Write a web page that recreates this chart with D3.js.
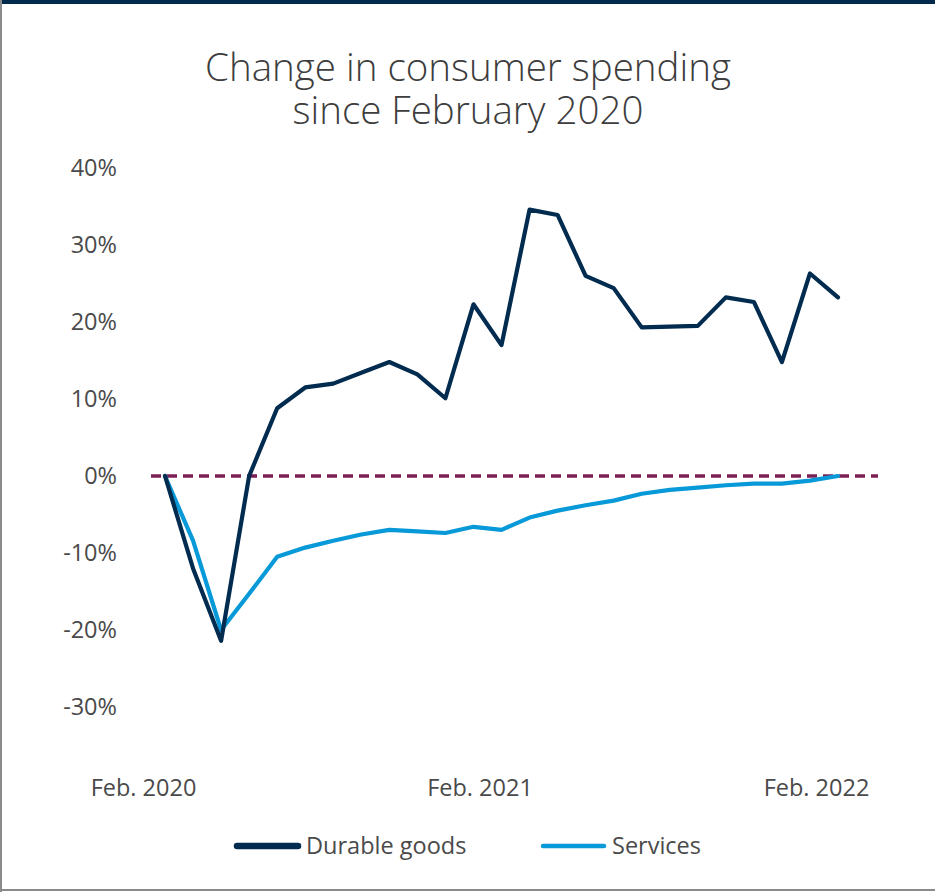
<!DOCTYPE html>
<html>
<head>
<meta charset="utf-8">
<script src="https://cdn.jsdelivr.net/npm/d3@7"></script>
<style>
  html, body { margin: 0; padding: 0; background: #fff; }
  svg { display: block; font-family: "Open Sans", Lato, sans-serif; }
</style>
</head>
<body>
<svg id="chart" width="935" height="892"></svg>
<script>
// Monthly change in spending relative to February 2020 (percent)
const months = d3.range(25).map(i => new Date(2020, 1 + i, 1));
const durableGoods = [0, -12.0, -21.4, 0.0, 8.8, 11.5, 12.0, 13.4, 14.8, 13.2, 10.1, 22.3, 17.0,
                      34.6, 33.9, 26.0, 24.4, 19.3, 19.4, 19.5, 23.2, 22.6, 14.8, 26.3, 23.2];
const services = [0, -8.4, -20.0, -15.3, -10.5, -9.3, -8.4, -7.6, -7.0, -7.2, -7.4, -6.6, -7.0,
                  -5.4, -4.5, -3.8, -3.2, -2.3, -1.8, -1.5, -1.2, -1.0, -1.0, -0.6, 0.0];
const yTicks = [40, 30, 20, 10, 0, -10, -20, -30];
const xTickIndex = [0, 12, 24];
const xTickLabels = ["Feb. 2020", "Feb. 2021", "Feb. 2022"];
const seriesNames = ["Durable goods", "Services"];
const seriesColors = ["#012b4f", "#0899d8"];

const svg = d3.select("#chart");
const W = 935, H = 892;
const FONT = "'Open Sans', Lato, sans-serif";

// Frame: navy band on top, grey rules left and bottom
svg.append("rect").attr("x", 0).attr("y", 0).attr("width", W).attr("height", H).attr("fill", "#fff");
svg.append("rect").attr("x", 0).attr("y", 0).attr("width", W).attr("height", 4).attr("fill", "#012a4c");
svg.append("rect").attr("x", 0).attr("y", 0).attr("width", 2).attr("height", H).attr("fill", "#8a8a8a");
svg.append("rect").attr("x", 0).attr("y", H - 3).attr("width", W).attr("height", 2).attr("fill", "#8a8a8a");

// Title, two lines
const titleLines = ["Change in consumer spending", "since February 2020"];
svg.selectAll("text.title")
  .data(titleLines)
  .join("text")
  .attr("class", "title")
  .attr("x", 468)
  .attr("y", (d, i) => 81 + i * 43)
  .attr("text-anchor", "middle")
  .attr("fill", "#3d3d3d")
  .attr("font-family", FONT)
  .attr("font-size", 38.5)
  .attr("font-weight", 300)
  .text(d => d);

// Scales
const x = d3.scaleLinear().domain([0, 24]).range([165, 838]);
const y = d3.scaleLinear().domain([-30, 40]).range([707, 168]);

// Y axis labels
const yAxis = d3.axisLeft(y).tickValues(yTicks).tickFormat(d => d + "%").tickSize(0).tickPadding(0);
const gy = svg.append("g").attr("transform", "translate(117,0)").call(yAxis);
gy.select(".domain").remove();
gy.selectAll("text")
  .attr("font-family", FONT)
  .attr("font-size", 23.5)
  .attr("fill", "#4a4a4a");

// X axis labels
const xAxis = d3.axisBottom(x).tickValues(xTickIndex)
  .tickFormat((d, i) => xTickLabels[i]).tickSize(0).tickPadding(0);
const gx = svg.append("g").attr("transform", "translate(0,796)").call(xAxis);
gx.select(".domain").remove();
gx.selectAll("text")
  .attr("dx", -22)
  .attr("dy", 0)
  .attr("font-family", FONT)
  .attr("font-size", 23.5)
  .attr("fill", "#4a4a4a");

// Zero reference line
svg.append("line")
  .attr("x1", 151).attr("x2", 878)
  .attr("y1", y(0)).attr("y2", y(0))
  .attr("stroke", "#7b2055")
  .attr("stroke-width", 3.5)
  .attr("stroke-dasharray", "10,6");

// Series lines
const line = d3.line().x((d, i) => x(i)).y(d => y(d));
[services, durableGoods].forEach((vals, k) => {
  const idx = k === 0 ? 1 : 0;
  svg.append("path")
    .datum(vals)
    .attr("d", line)
    .attr("fill", "none")
    .attr("stroke", seriesColors[idx])
    .attr("stroke-width", 4.2)
    .attr("stroke-linejoin", "round")
    .attr("stroke-linecap", "round");
});

// Legend
const legendItems = [
  { name: seriesNames[0], color: seriesColors[0], x: 234, w: 6.5 },
  { name: seriesNames[1], color: seriesColors[1], x: 540, w: 4.5 }
];
legendItems.forEach(it => {
  const g = svg.append("g");
  g.append("line")
    .attr("x1", it.x + 3).attr("x2", it.x + 64)
    .attr("y1", 846).attr("y2", 846)
    .attr("stroke", it.color)
    .attr("stroke-width", it.w)
    .attr("stroke-linecap", "round");
  g.append("text")
    .attr("x", it.x + 72).attr("y", 853.5)
    .attr("font-family", FONT)
    .attr("font-size", 23.5)
    .attr("fill", "#4a4a4a")
    .text(it.name);
});
</script>
</body>
</html>
